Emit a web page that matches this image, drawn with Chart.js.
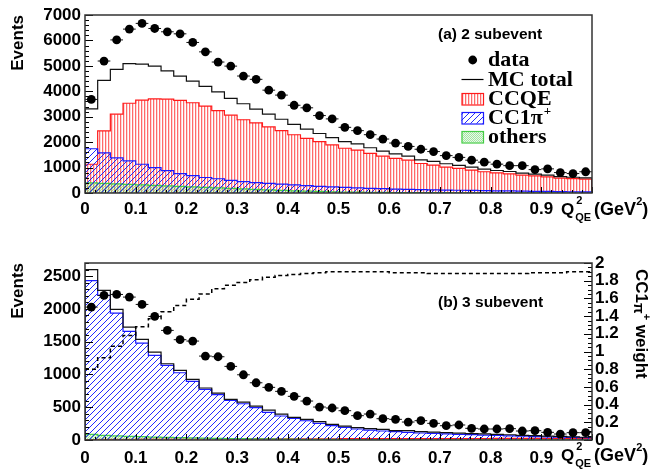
<!DOCTYPE html>
<html><head><meta charset="utf-8">
<script src="https://cdn.jsdelivr.net/npm/chart.js@4/dist/chart.umd.min.js"></script>
<style>
html,body{margin:0;padding:0;background:#fff;}
#wrap{position:relative;width:652px;height:470px;background:#fff;}
canvas{position:absolute;left:0;}
#c1{top:0;}
#c2{top:235px;}
</style></head><body>
<div id="wrap"><canvas id="c1" width="652" height="235" style="width:652px;height:235px"></canvas><canvas id="c2" width="652" height="235" style="width:652px;height:235px"></canvas></div>
<script>
// ---- categories: Q^2_QE bin lower edges (GeV^2), bin width 0.025 ----
const binLow = [0,0.025,0.05,0.075,0.1,0.125,0.15,0.175,0.2,0.225,0.25,0.275,0.3,0.325,0.35,0.375,0.4,0.425,0.45,0.475,
                0.5,0.525,0.55,0.575,0.6,0.625,0.65,0.675,0.7,0.725,0.75,0.775,0.8,0.825,0.85,0.875,0.9,0.925,0.95,0.975];
const binWidth = 0.025;
const xTickLabels = ['0','0.1','0.2','0.3','0.4','0.5','0.6','0.7','0.8','0.9'];
const yTicksA = [0,1000,2000,3000,4000,5000,6000,7000];
const yTicksB = [0,500,1000,1500,2000,2500];
const y2TicksB = [0,0.2,0.4,0.6,0.8,1,1.2,1.4,1.6,1.8,2];

// ---- (a) 2 subevent ----
const dataA   = [3680,5190,6020,6445,6670,6470,6340,6260,5920,5550,5150,4990,4600,4470,4045,3850,3450,3350,3045,2914,
                 2582,2452,2293,2122,1965,1831,1720,1630,1470,1400,1290,1213,1134,1075,1075,920,949,803,765,835];
const mcTotalA= [3310,4430,4860,5090,5070,4990,4800,4600,4400,4190,3980,3720,3510,3300,3100,2900,2700,2510,2340,2180,
                 2020,1930,1780,1650,1540,1450,1305,1240,1150,1090,1015,940,885,845,780,740,700,645,620,595];
const ccqeA   = [1130,2440,3100,3530,3650,3700,3690,3640,3550,3420,3240,3060,2880,2760,2600,2450,2290,2150,2020,1890,
                 1760,1690,1560,1450,1360,1290,1160,1100,1020,965,900,835,790,755,700,670,635,585,565,545];
const cc1piA  = [1740,1580,1380,1260,1130,1000,880,760,680,610,560,500,450,410,380,350,320,290,260,240,
                 220,200,185,170,155,140,130,122,115,108,100,92,85,80,72,65,60,55,50,45];
const othersA = [400,380,360,340,320,300,280,260,240,220,200,180,160,140,120,100,85,70,60,50,
                 40,35,30,25,20,18,15,13,12,10,9,8,7,6,6,5,5,4,4,3];

// ---- (b) 3 subevent ----
const dataB   = [2027,2205,2220,2180,2068,1885,1672,1530,1509,1280,1270,1123,995,873,803,742,666,594,503,488,
                 447,371,396,325,315,274,295,254,218,229,178,168,168,173,137,142,117,91,112,112];
const mcTotalB= [2600,2282,1992,1722,1535,1341,1163,1062,925,793,716,620,579,518,457,396,346,315,279,239,
                 213,188,173,163,142,142,127,120,112,105,98,92,86,80,72,66,60,54,48,42];
const cc1piB  = [2430,2205,1936,1657,1478,1291,1138,1026,894,773,691,605,553,493,422,366,330,294,254,218,
                 193,168,152,137,127,117,107,100,93,87,81,75,70,64,58,53,48,43,39,35];
const othersB = [85,70,62,55,50,45,40,36,32,29,26,23,20,18,16,14,12,11,10,9,
                 8,7,6,6,5,5,4,4,4,3,3,3,3,2,2,2,2,2,2,2];
const ccqeB   = [8,9,10,11,12,12,13,14,14,15,15,16,16,17,17,18,18,18,19,19,
                 20,20,20,21,21,21,22,22,22,23,23,23,24,24,24,25,25,25,25,25];
const weightB = [0.80,0.93,1.06,1.18,1.28,1.37,1.45,1.52,1.59,1.65,1.71,1.75,1.78,1.81,1.84,1.86,1.87,1.88,1.89,1.90,
                 1.90,1.90,1.90,1.90,1.89,1.89,1.89,1.88,1.88,1.88,1.88,1.88,1.88,1.88,1.88,1.89,1.89,1.89,1.90,1.90];

// ---------- helpers ----------
function histData(vals, closed){
  const pts = [];
  if (closed) pts.push({x: binLow[0], y: 0});
  vals.forEach((v,i)=>pts.push({x: binLow[i], y: v}));
  const end = binLow[vals.length-1] + binWidth;
  pts.push({x: end, y: vals[vals.length-1]});
  if (closed) pts.push({x: end, y: 0});
  return pts;
}
function markerData(vals){ return vals.map((v,i)=>({x: binLow[i] + binWidth/2, y: v})); }
function xErrData(vals){
  const pts = [];
  vals.forEach((v,i)=>{ pts.push({x: binLow[i], y: v}, {x: binLow[i]+binWidth, y: v}, {x: binLow[i]+binWidth, y: null}); });
  return pts;
}
function makePattern(kind){
  const c = document.createElement('canvas'); const g = c.getContext('2d');
  if (kind === 'red'){
    c.width = 3; c.height = 3;
    g.fillStyle = 'rgba(255,55,55,0.75)'; g.fillRect(0,0,1,3);
    g.fillStyle = 'rgba(255,120,120,0.30)'; g.fillRect(1,0,1,3);
  } else if (kind === 'blue'){
    c.width = 6; c.height = 6;
    g.fillStyle = 'rgba(20,30,255,0.95)';
    for (let x=0; x<6; x++) g.fillRect(x, 5-x, 1, 1);
  } else {
    c.width = 2; c.height = 2;
    g.fillStyle = 'rgba(90,205,90,0.55)'; g.fillRect(0,0,1,1); g.fillRect(1,1,1,1);
    g.fillStyle = 'rgba(190,240,190,0.35)'; g.fillRect(1,0,1,1); g.fillRect(0,1,1,1);
  }
  return g.createPattern(c, 'repeat');
}
const patRed = makePattern('red'), patBlue = makePattern('blue'), patGreen = makePattern('green');
const RED = '#ff1a1a', BLUE = '#1a1aff', GREEN = '#44cc44';
const SANS = '"Liberation Sans", Arial, Helvetica, sans-serif';
const SERIF = '"Liberation Serif", "Times New Roman", serif';

function histSet(label, vals, opts){
  return Object.assign({label, data: histData(vals, true), stepped: 'before', pointRadius: 0,
    borderWidth: 1.2, fill: false, tension: 0}, opts);
}
function dataSets(vals){
  return [
    {label:'data', data: markerData(vals), showLine:false, pointRadius:4.4, pointBackgroundColor:'#000',
     pointBorderColor:'#000', pointBorderWidth:0},
    {label:'xerr', data: xErrData(vals), pointRadius:0, borderColor:'#111', borderWidth:1, spanGaps:false, fill:false}
  ];
}

function drawTicksAndFrame(chart, cfg){
  const {ctx, chartArea:a} = chart;
  const xs = chart.scales.x, ys = chart.scales.y;
  ctx.save();
  ctx.strokeStyle = '#000'; ctx.lineWidth = 1;
  ctx.beginPath();
  for (let k=0; k<=50; k++){
    const px = Math.round(xs.getPixelForValue(k*0.02)) + 0.5;
    const len = (k % 5 === 0) ? 6 : 3;
    ctx.moveTo(px, a.bottom); ctx.lineTo(px, a.bottom - len);
  }
  const nY = Math.round(ys.max / cfg.yMinor);
  for (let k=0; k<=nY; k++){
    const py = Math.round(ys.getPixelForValue(k*cfg.yMinor)) + 0.5;
    const len = (k % cfg.yPer === 0) ? 8 : 4;
    ctx.moveTo(a.left, py); ctx.lineTo(a.left + len, py);
  }
  if (chart.scales.y2){
    const y2 = chart.scales.y2;
    for (let k=0; k<=40; k++){
      const py = Math.round(y2.getPixelForValue(k*0.05)) + 0.5;
      const len = (k % 4 === 0) ? 8 : 4;
      ctx.moveTo(a.right, py); ctx.lineTo(a.right - len, py);
    }
  }
  ctx.stroke();
  ctx.lineWidth = 1.5; ctx.strokeStyle = '#333';
  ctx.strokeRect(a.left, a.top, a.right - a.left, a.bottom - a.top);
  ctx.restore();
}
function drawQLabel(ctx, x, base){
  ctx.save();
  ctx.fillStyle = '#000'; ctx.textBaseline = 'alphabetic'; ctx.textAlign = 'left';
  ctx.font = 'bold 17px ' + SANS; ctx.fillText('Q', x, base);
  let cx = x + ctx.measureText('Q').width + 1;
  ctx.font = 'bold 11px ' + SANS; ctx.fillText('2', cx + 1, base - 11);
  ctx.fillText('QE', cx, base + 6);
  cx += ctx.measureText('QE').width + 3;
  ctx.font = 'bold 18px ' + SANS; ctx.fillText('(GeV', cx, base);
  cx += ctx.measureText('(GeV').width;
  ctx.font = 'bold 11px ' + SANS; ctx.fillText('2', cx, base - 10);
  cx += ctx.measureText('2').width;
  ctx.font = 'bold 18px ' + SANS; ctx.fillText(')', cx, base);
  ctx.restore();
}
function legendBox(ctx, x, y, w, h, pat, col){
  ctx.fillStyle = pat; ctx.fillRect(x, y, w, h);
  ctx.strokeStyle = col; ctx.lineWidth = 1.2; ctx.strokeRect(x+0.5, y+0.5, w, h);
}
const setTicks = (list) => (s) => { s.ticks = list.map(v => ({value: v})); };

const xScale = (pad, height) => ({
  type:'linear', min:0, max:1,
  grid:{display:false, drawTicks:false}, border:{display:false},
  ticks:{stepSize:0.1, autoSkip:false, maxRotation:0, padding:pad, color:'#000', font:{family:SANS, size:17, weight:'bold'},
    callback:(v)=>{ const i = Math.round(v*10); return (Math.abs(v*10 - i) < 1e-6 && i < xTickLabels.length) ? xTickLabels[i] : ''; }},
  afterFit:(s)=>{ s.height = height; }
});
const yLeft = (max, list, pad) => ({
  type:'linear', min:0, max:max, position:'left',
  grid:{display:false, drawTicks:false}, border:{display:false},
  afterBuildTicks: setTicks(list),
  ticks:{autoSkip:false, padding:pad, color:'#000', font:{family:SANS, size:17, weight:'bold'}, callback:(v)=>String(v)},
  title:{display:true, text:'Events', align:'end', color:'#000', font:{family:SANS, size:17, weight:'bold'}, padding:{top:8,bottom:0}},
  afterFit:(s)=>{ s.width = 85; }
});

// ---------- top chart ----------
const topPlugin = {
  id:'topDecor',
  afterDraw(chart){
    drawTicksAndFrame(chart, {yMinor:200, yPer:5});
    const ctx = chart.ctx;
    ctx.save();
    ctx.fillStyle = '#000';
    ctx.font = 'bold 15.5px ' + SANS; ctx.textBaseline = 'middle'; ctx.textAlign = 'left';
    ctx.fillText('(a) 2 subevent', 438, 35);
    // legend
    ctx.beginPath(); ctx.arc(472.7, 60, 4.4, 0, Math.PI*2); ctx.fill();
    ctx.strokeStyle = '#000'; ctx.lineWidth = 1.2;
    ctx.beginPath(); ctx.moveTo(461.5, 79.5); ctx.lineTo(483.5, 79.5); ctx.stroke();
    legendBox(ctx, 461.5, 93, 21.5, 11.5, patRed, RED);
    legendBox(ctx, 461.5, 112, 21.5, 11.5, patBlue, BLUE);
    legendBox(ctx, 461.5, 131, 21.5, 11.5, patGreen, GREEN);
    ctx.fillStyle = '#000';
    ctx.font = 'bold 22px ' + SERIF; ctx.textBaseline = 'alphabetic';
    ctx.fillText('data', 488, 66);
    ctx.fillText('MC total', 488, 85.5);
    ctx.fillText('CCQE', 488, 104.5);
    ctx.fillText('CC1\u03c0', 488, 123.5);
    let w = ctx.measureText('CC1\u03c0').width;
    ctx.font = 'bold 13px ' + SERIF; ctx.fillText('+', 488 + w + 1, 115);
    ctx.font = 'bold 22px ' + SERIF; ctx.fillText('others', 488, 142.5);
    ctx.restore();
    drawQLabel(chart.ctx, 561, 215);
  }
};
new Chart(document.getElementById('c1'), {
  type:'line',
  data:{ datasets:[
    ...dataSets(dataA),
    histSet('MC total', mcTotalA, {borderColor:'#111'}),
    histSet('CC1pi', cc1piA, {borderColor:BLUE, backgroundColor:patBlue, fill:'origin'}),
    histSet('others', othersA, {borderColor:GREEN, backgroundColor:patGreen, fill:'origin'}),
    histSet('CCQE', ccqeA, {borderColor:RED, backgroundColor:patRed, fill:'origin'})
  ]},
  options:{
    responsive:false, animation:false, devicePixelRatio:1,
    layout:{padding:{top:15, right:60, left:0, bottom:0}},
    plugins:{legend:{display:false}, tooltip:{enabled:false}},
    scales:{ x: xScale(6, 42), y: yLeft(7000, yTicksA, 4) }
  },
  plugins:[topPlugin]
});

// ---------- bottom chart ----------
const botPlugin = {
  id:'botDecor',
  afterDraw(chart){
    drawTicksAndFrame(chart, {yMinor:100, yPer:5});
    const ctx = chart.ctx;
    ctx.save();
    ctx.fillStyle = '#000';
    ctx.font = 'bold 15.5px ' + SANS; ctx.textBaseline = 'middle'; ctx.textAlign = 'left';
    ctx.fillText('(b) 3 subevent', 438, 68);
    // right axis title, rotated clockwise
    ctx.translate(641, 34); ctx.rotate(Math.PI/2);
    ctx.textBaseline = 'middle';
    ctx.font = 'bold 17px ' + SANS; ctx.fillText('CC1', 0, 0);
    let cx = ctx.measureText('CC1').width;
    ctx.font = 'bold 14px ' + SANS; ctx.fillText('\u03c0', cx, 3);
    cx += ctx.measureText('\u03c0').width;
    ctx.font = 'bold 11px ' + SANS; ctx.fillText('+', cx, -5);
    cx += ctx.measureText('+').width;
    ctx.font = 'bold 17px ' + SANS; ctx.fillText(' weight', cx, 0);
    ctx.restore();
    drawQLabel(chart.ctx, 561, 226);
  }
};
new Chart(document.getElementById('c2'), {
  type:'line',
  data:{ datasets:[
    ...dataSets(dataB),
    {label:'weight', data: histData(weightB, false), stepped:'before', yAxisID:'y2', pointRadius:0,
     borderColor:'#000', borderWidth:1.5, borderDash:[4,3], fill:false},
    histSet('MC total', mcTotalB, {borderColor:'#111'}),
    histSet('CC1pi', cc1piB, {borderColor:BLUE, backgroundColor:patBlue, fill:'origin'}),
    histSet('others', othersB, {borderColor:GREEN, backgroundColor:patGreen, fill:'origin'}),
    histSet('CCQE', ccqeB, {borderColor:RED, backgroundColor:patRed, fill:'origin'})
  ]},
  options:{
    responsive:false, animation:false, devicePixelRatio:1,
    layout:{padding:{top:28, right:0, left:0, bottom:0}},
    plugins:{legend:{display:false}, tooltip:{enabled:false}},
    scales:{
      x: xScale(8, 30),
      y: yLeft(2700, yTicksB, 4),
      y2:{ type:'linear', min:0, max:2, position:'right',
        grid:{display:false, drawTicks:false}, border:{display:false},
        afterBuildTicks: setTicks(y2TicksB),
        ticks:{autoSkip:false, padding:3, color:'#000', font:{family:SANS, size:17, weight:'bold'},
          callback:(v)=>String(Math.round(v*10)/10)},
        afterFit:(s)=>{ s.width = 60; } }
    }
  },
  plugins:[botPlugin]
});
</script>
</body></html>
